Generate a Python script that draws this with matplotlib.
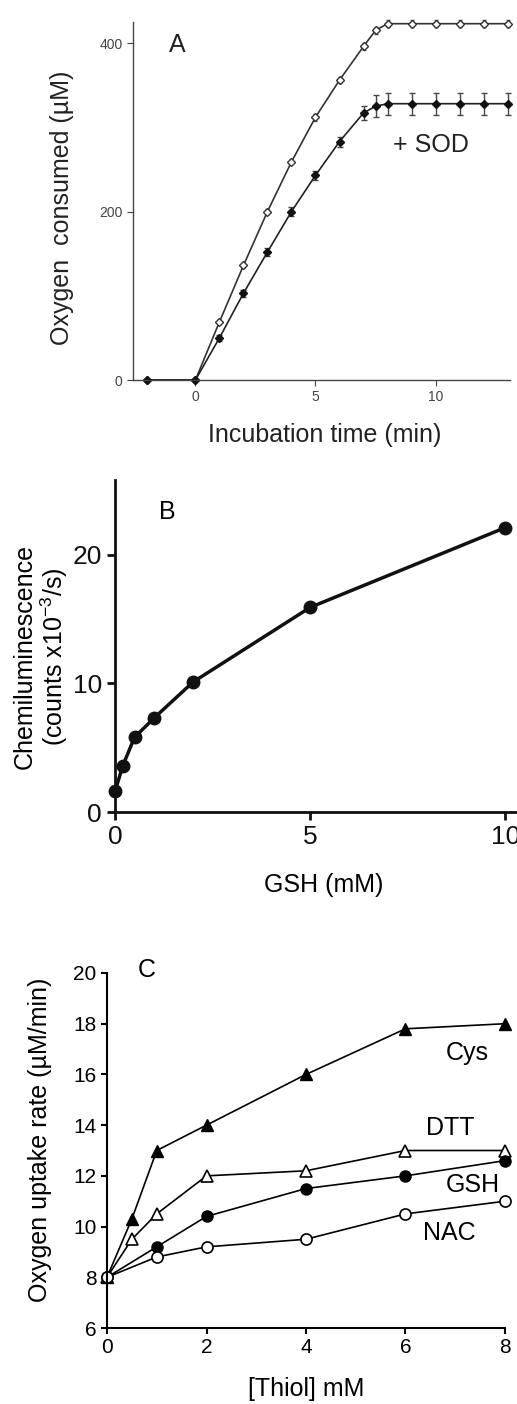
import matplotlib
matplotlib.use("Agg")
import matplotlib.pyplot as plt
import numpy as np

plt.rcParams['font.family'] = ['Liberation Sans', 'DejaVu Sans']
plt.rcParams['mathtext.default'] = 'regular'

# Panel A: oxygen consumption vs incubation time
time_a = [-2, 0, 1, 2, 3, 4, 5, 6, 7, 7.5, 8, 9, 10, 11, 12, 13]
oxy_ctrl = [0, 0, 69, 136, 200, 259, 312, 356, 396, 415, 423, 423, 423, 423, 423, 423]
oxy_ctrl_err = [0, 0, 3, 3, 3, 3, 4, 4, 4, 4, 4, 4, 4, 4, 4, 4]
oxy_sod = [0, 0, 50, 103, 152, 200, 243, 283, 317, 325, 328, 328, 328, 328, 328, 328]
oxy_sod_err = [0, 0, 4, 4, 5, 5, 5, 6, 8, 13, 13, 13, 13, 13, 13, 13]

# Panel B: chemiluminescence vs GSH
gsh_b = [0, 0.2, 0.5, 1, 2, 5, 10]
chemi_b = [1.6, 3.6, 5.8, 7.3, 10.1, 15.9, 22.1]

# Panel C: oxygen uptake rate vs thiol concentration
cys_x = [0, 0.5, 1, 2, 4, 6, 8]
cys_y = [8, 10.3, 13.0, 14.0, 16.0, 17.8, 18.0]
dtt_x = [0, 0.5, 1, 2, 4, 6, 8]
dtt_y = [8, 9.5, 10.5, 12.0, 12.2, 13.0, 13.0]
gsh_x = [0, 1, 2, 4, 6, 8]
gsh_y = [8, 9.2, 10.4, 11.5, 12.0, 12.6]
nac_x = [0, 1, 2, 4, 6, 8]
nac_y = [8, 8.8, 9.2, 9.5, 10.5, 11.0]

W, H = 517, 1404
fig = plt.figure(figsize=(W / 100, H / 100), dpi=100)


def px_axes(left, right, top, bottom):
    return fig.add_axes([left / W, 1 - bottom / H, (right - left) / W, (bottom - top) / H])


# ---------- A ----------
axA = px_axes(133, 510, 22, 380)
axA.errorbar(time_a, oxy_ctrl, yerr=oxy_ctrl_err, color='#333333', lw=1.2,
             marker='D', ms=4.5, mfc='white', mec='#333333', mew=1.0,
             ecolor='#555555', elinewidth=0.8, capsize=1.5, clip_on=False)
axA.errorbar(time_a, oxy_sod, yerr=oxy_sod_err, color='#222222', lw=1.2,
             marker='D', ms=4.5, mfc='#111111', mec='#111111',
             ecolor='#444444', elinewidth=1.0, capsize=2, clip_on=False)
axA.set_xlim(-2.6, 13.1)
axA.set_ylim(0, 425)
axA.set_xticks([0, 5, 10])
axA.set_yticks([0, 200, 400])
for s in ['top', 'right']:
    axA.spines[s].set_visible(False)
for s in ['left', 'bottom']:
    axA.spines[s].set_color('#444444')
    axA.spines[s].set_linewidth(1.0)
axA.tick_params(labelsize=10, colors='#444444', length=4, width=0.8)
axA.set_xlabel('Incubation time (min)', fontsize=18, color='#222222')
axA.set_ylabel('Oxygen  consumed (µM)', fontsize=18, color='#222222')
axA.xaxis.set_label_coords(0.509, -0.154)
axA.xaxis.label.set_va('center')
axA.yaxis.set_label_coords(-0.188, 0.48)
axA.yaxis.label.set_va('center')
axA.text(-0.75, 398, 'A', fontsize=18, ha='center', va='center', color='#222222')
axA.text(9.8, 279, '+ SOD', fontsize=18, ha='center', va='center', color='#222222')

# ---------- B ----------
axB = px_axes(115, 517, 480, 812)
axB.plot(gsh_b, chemi_b, color='#111111', lw=2.5, marker='o', ms=9,
         mfc='#111111', mec='#111111', clip_on=False)
axB.set_xlim(0, 10.3)
axB.set_ylim(0, 25.8)
axB.set_xticks([0, 5, 10])
axB.set_yticks([0, 10, 20])
for s in ['top', 'right']:
    axB.spines[s].set_visible(False)
for s in ['left', 'bottom']:
    axB.spines[s].set_linewidth(2.0)
    axB.spines[s].set_color('#111111')
axB.tick_params(labelsize=19, length=6, width=2, colors='#111111')
axB.set_xlabel('GSH (mM)', fontsize=18)
axB.set_ylabel('Chemiluminescence\n(counts x10$^{-3}$/s)', fontsize=18, linespacing=1.1)
axB.xaxis.set_label_coords(0.52, -0.22)
axB.xaxis.label.set_va('center')
axB.yaxis.set_label_coords(-0.183, 0.467)
axB.yaxis.label.set_va('center')
axB.text(1.33, 23.3, 'B', fontsize=18, ha='center', va='center')

# ---------- C ----------
axC = px_axes(107, 505, 973, 1328)
axC.plot(cys_x, cys_y, color='black', lw=1.2, marker='^', ms=8,
         mfc='black', mec='black', clip_on=False)
axC.plot(dtt_x, dtt_y, color='black', lw=1.2, marker='^', ms=8,
         mfc='white', mec='black', mew=1.2, clip_on=False)
axC.plot(gsh_x, gsh_y, color='black', lw=1.2, marker='o', ms=8,
         mfc='black', mec='black', clip_on=False)
axC.plot(nac_x, nac_y, color='black', lw=1.2, marker='o', ms=8,
         mfc='white', mec='black', mew=1.2, clip_on=False)
axC.set_xlim(0, 8)
axC.set_ylim(6, 20)
axC.set_xticks([0, 2, 4, 6, 8])
axC.set_yticks([6, 8, 10, 12, 14, 16, 18, 20])
for s in ['top', 'right']:
    axC.spines[s].set_visible(False)
for s in ['left', 'bottom']:
    axC.spines[s].set_linewidth(1.5)
axC.tick_params(labelsize=15, length=4, width=1.5)
axC.set_xlabel('[Thiol] mM', fontsize=18)
axC.set_ylabel('Oxygen uptake rate (µM/min)', fontsize=18)
axC.xaxis.set_label_coords(0.50, -0.172)
axC.xaxis.label.set_va('center')
axC.yaxis.set_label_coords(-0.168, 0.53)
axC.yaxis.label.set_va('center')
axC.text(0.8, 20.1, 'C', fontsize=18, ha='center', va='center')
axC.text(7.24, 16.85, 'Cys', fontsize=18, ha='center', va='center')
axC.text(6.89, 13.9, 'DTT', fontsize=18, ha='center', va='center')
axC.text(7.36, 11.64, 'GSH', fontsize=18, ha='center', va='center')
axC.text(6.89, 9.75, 'NAC', fontsize=18, ha='center', va='center')

fig.savefig('out.png', dpi=100)
